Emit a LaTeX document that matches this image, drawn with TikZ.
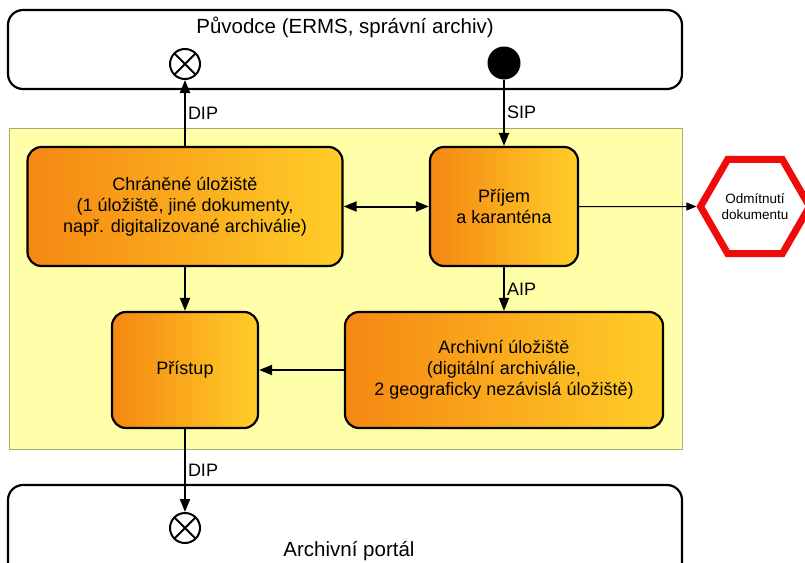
\documentclass[tikz,border=0pt]{standalone}
\usepackage{fontspec}
\setmainfont{Liberation Sans}
\usetikzlibrary{positioning,arrows.meta,shapes.geometric}
\definecolor{boxleft}{RGB}{245,135,18}
\definecolor{boxright}{RGB}{255,206,40}
\definecolor{areafill}{RGB}{255,255,170}
\definecolor{arealine}{RGB}{170,170,120}
\definecolor{rejectred}{RGB}{240,10,10}
\tikzset{
    auto,
    >={Triangle[length=13pt,width=10pt]},
    block/.style = {
        draw,
        shape=rectangle,
        rounded corners=14pt,
        left color=boxleft,
        right color=boxright,
        line width=2.2pt,
        align=center,
        font=\fontsize{18}{21}\selectfont
    },
    system/.style = {
        draw,
        shape=rectangle,
        rounded corners=15pt,
        minimum width=674pt,
        line width=2.2pt
    },
    area/.style = {
        draw=arealine,
        fill=areafill,
        shape=rectangle,
        line width=0.8pt
    },
    endpoint/.style = {
        draw,
        shape=circle,
        minimum size=30pt,
        inner sep=0pt,
        line width=2pt,
        path picture={
            \draw[line width=2pt] (path picture bounding box.north west) -- (path picture bounding box.south east)
                (path picture bounding box.north east) -- (path picture bounding box.south west);
        }
    },
    startpoint/.style = {
        shape=circle,
        fill=black,
        minimum size=33pt,
        inner sep=0pt
    },
    reject/.style = {
        draw=rejectred,
        fill=white,
        shape=regular polygon,
        regular polygon sides=6,
        minimum size=102pt,
        inner sep=0pt,
        line width=7pt,
        align=center,
        font=\fontsize{13.5}{15.5}\selectfont
    },
    title/.style = {
        font=\fontsize{20.5}{24}\selectfont
    },
    tag/.style = {
        font=\fontsize{18}{20}\selectfont,
        inner sep=2pt
    },
    flow/.style = {
        line width=2pt
    },
}

\begin{document}
\begin{tikzpicture}[x=1pt,y=-1pt]
                \useasboundingbox (0,0) rectangle (805,562);
                \clip (0,0) rectangle (805,562);

                \node[area, minimum width=673pt, minimum height=321pt] (archive) at (345.5,288.5) {};

                \node[system, minimum height=79pt] (origin) at (345,49.5) {};
                \node[title] (origintext) at (345,27) {Původce (ERMS, správní archiv)};
                \node[system, minimum height=140pt] (portal) at (345,555) {};
                \node[title] (portaltext) at (349,551) {Archivní portál};

                \node[endpoint] (dipout) at (185,64) {};
                \node[startpoint] (sipin) at (504,63) {};
                \node[endpoint] (dipin) at (185,528) {};

                \node[block, minimum width=315pt, minimum height=119pt] (chraneno) at (185,206.5) {Chráněné úložiště\\(1 úložiště, jiné dokumenty,\\např. digitalizované archiválie)};
                \node[block, minimum width=148pt, minimum height=119pt] (prijem) at (504,206.5) {Příjem\\a karanténa};
                \node[block, minimum width=146pt, minimum height=116pt] (pristup) at (185,370) {Přístup};
                \node[block, minimum width=318pt, minimum height=116pt] (ulozeni) at (504,370) {Archivní úložiště\\(digitální archiválie,\\2 geograficky nezávislá úložiště)};
                \node[reject] (odmitnuti) at (755,206.5) {Odmítnutí\\dokumentu};

                \path[draw, flow, ->] (chraneno) -- node[tag, right] {DIP} (dipout);
                \path[draw, flow, ->] (sipin) -- node[tag, right] {SIP} (prijem);
                \path[draw, flow, <->] (chraneno) -- (prijem);
                \path[draw, line width=1pt, -{Triangle[length=10pt,width=8pt]}] (prijem) -- (odmitnuti);
                \path[draw, flow, ->] (chraneno) -- (pristup);
                \path[draw, flow, ->] (prijem) -- node[tag, right] {AIP} (ulozeni);
                \path[draw, flow, ->] (ulozeni) -- (pristup);
                \path[draw, flow, ->] (pristup) -- node[tag, right, pos=0.5] {DIP} (dipin);
\end{tikzpicture}
\end{document}
